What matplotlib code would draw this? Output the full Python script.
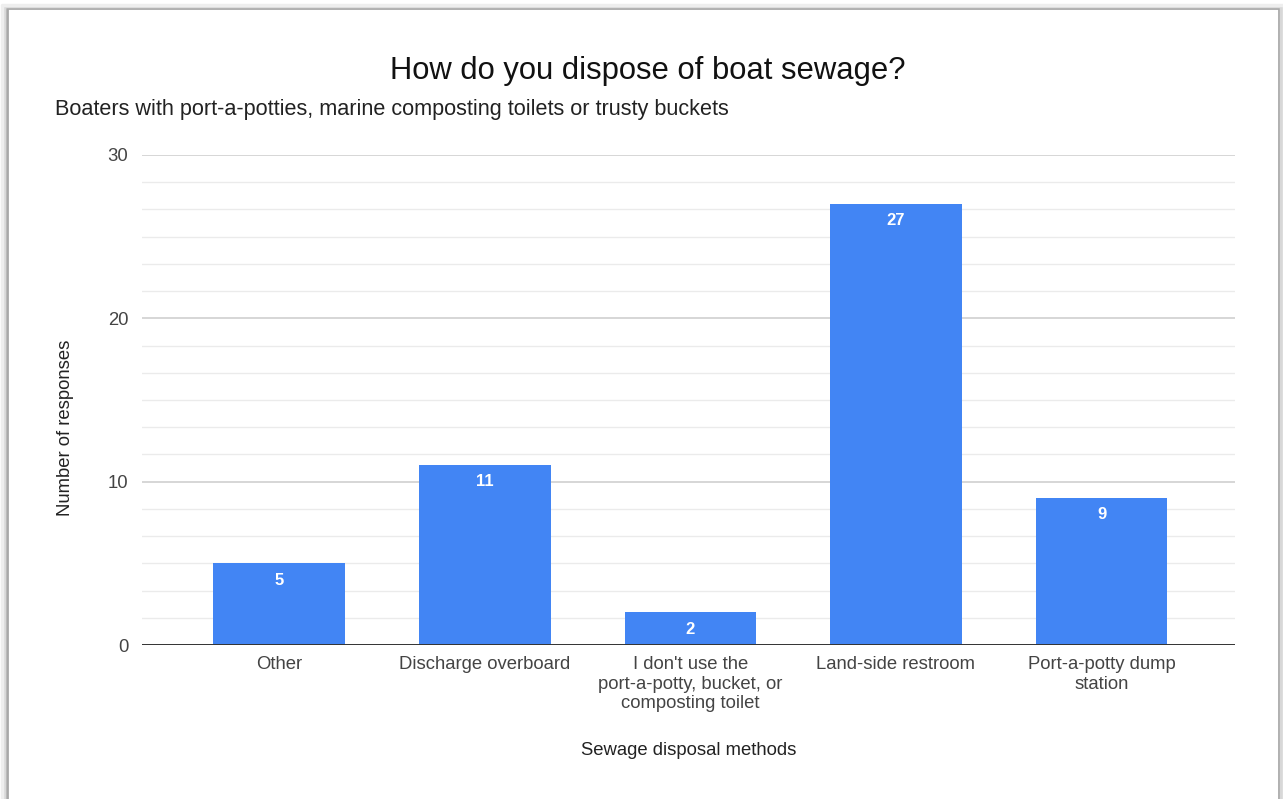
import matplotlib.pyplot as plt
import numpy as np
from matplotlib.lines import Line2D
from matplotlib.ticker import MultipleLocator

plt.rcParams['font.family'] = ['Liberation Sans', 'DejaVu Sans']

# Data
categories = ['Other', 'Discharge overboard',
              "I don't use the\nport-a-potty, bucket, or\ncomposting toilet",
              'Land-side restroom', 'Port-a-potty dump\nstation']
values = [5, 11, 2, 27, 9]

fig = plt.figure(figsize=(12.83, 7.99), dpi=100)
ax = fig.add_axes([0.1107, 0.1927, 0.852, 0.6134])

x_pos = np.arange(len(categories))
bars = ax.bar(x_pos, values, width=0.64, color='#4285F4', zorder=3)

# value labels inside the top of each bar
for b, v in zip(bars, values):
    ax.annotate(str(v), (b.get_x() + b.get_width() / 2, v), xytext=(0, -12),
                textcoords='offset points', ha='center', va='center',
                color='white', fontsize=12, fontweight='bold', zorder=4)

ax.set_xlim(-0.667, 4.65)
ax.set_ylim(0, 30)
ax.yaxis.set_major_locator(MultipleLocator(10))
ax.yaxis.set_minor_locator(MultipleLocator(10 / 6))
ax.grid(axis='y', which='major', color='#cccccc', linewidth=1.1, zorder=0)
ax.grid(axis='y', which='minor', color='#ebebeb', linewidth=1.0, zorder=0)
ax.axhline(0, color='#333333', linewidth=1.4, zorder=5)

for s in ax.spines.values():
    s.set_visible(False)
ax.tick_params(axis='both', which='both', length=0, colors='#444444', labelsize=13.3)
ax.tick_params(axis='y', pad=10)
ax.tick_params(axis='x', pad=8)
ax.set_xticks(x_pos, categories)

ax.set_xlabel('Sewage disposal methods', fontsize=13.3, color='#222222')
ax.xaxis.set_label_coords(0.5, -0.198)
ax.set_ylabel('Number of responses', fontsize=13.3, color='#222222')
ax.yaxis.set_label_coords(-0.062, 0.444)

fig.text(0.505, 0.911, 'How do you dispose of boat sewage?', ha='center', va='center',
         fontsize=22.3, color='#111111')
fig.text(0.043, 0.863, 'Boaters with port-a-potties, marine composting toilets or trusty buckets',
         ha='left', va='center', fontsize=15.6, color='#222222')

# card border with a soft shadow
for off, col, lw in [(0.0, '#a8a8a8', 2.0), (0.002, '#d8d8d8', 2.5), (0.004, '#eeeeee', 2.5)]:
    xl, xr, yt = 0.0055 - off, 0.9965 + off, 0.990 + off
    fig.add_artist(Line2D([xl, xl, xr, xr], [0, yt, yt, 0], transform=fig.transFigure,
                          color=col, linewidth=lw, zorder=0))

plt.savefig('out.png', dpi=100)
